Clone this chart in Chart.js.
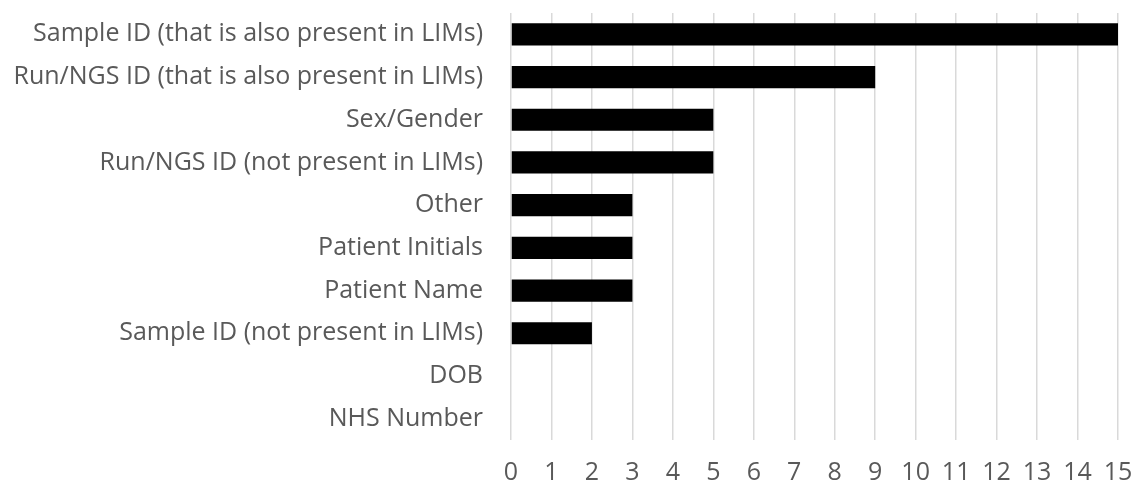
<!DOCTYPE html>
<html>
<head>
<meta charset="utf-8">
<script src="https://cdn.jsdelivr.net/npm/chart.js@4"></script>
<style>
  html, body { margin: 0; padding: 0; background: #fff; }
  #wrap { width: 1134px; height: 488px; position: relative; }
</style>
</head>
<body>
<div id="wrap"><canvas id="chart"></canvas></div>
<script>
const categories = [
  "Sample ID (that is also present in LIMs)",
  "Run/NGS ID (that is also present in LIMs)",
  "Sex/Gender",
  "Run/NGS ID (not present in LIMs)",
  "Other",
  "Patient Initials",
  "Patient Name",
  "Sample ID (not present in LIMs)",
  "DOB",
  "NHS Number",
];
const counts = [15, 9, 5, 5, 3, 3, 3, 2, 0, 0];
const xMin = 0;
const xMax = 15;

const textColor = "#595959";
const gridColor = "#d9d9d9";
const font = { family: "'Open Sans', sans-serif", size: 25 };

new Chart(document.getElementById("chart"), {
  type: "bar",
  data: {
    labels: categories,
    datasets: [
      {
        data: counts,
        backgroundColor: "#000000",
        borderWidth: 0,
        categoryPercentage: 1,
        barPercentage: 0.52,
      },
    ],
  },
  options: {
    indexAxis: "y",
    responsive: true,
    maintainAspectRatio: false,
    animation: false,
    layout: { padding: { top: 13, right: 16, left: 0, bottom: 0 } },
    plugins: { legend: { display: false }, tooltip: { enabled: false } },
    scales: {
      x: {
        min: xMin,
        max: xMax,
        ticks: { stepSize: 1, color: textColor, font: font, padding: 18, maxRotation: 0 },
        grid: { color: gridColor, lineWidth: 1.5, drawTicks: false },
        border: { display: false },
        afterFit(scale) {
          scale.height = 48;
          scale.paddingLeft = 0;
          scale.paddingRight = 0;
        },
      },
      y: {
        ticks: { color: textColor, font: font, padding: 28, autoSkip: false },
        grid: { display: false, drawTicks: false },
        border: { display: false },
        afterFit(scale) {
          scale.width = 511;
          scale.paddingTop = 0;
          scale.paddingBottom = 0;
        },
      },
    },
  },
});
</script>
</body>
</html>
